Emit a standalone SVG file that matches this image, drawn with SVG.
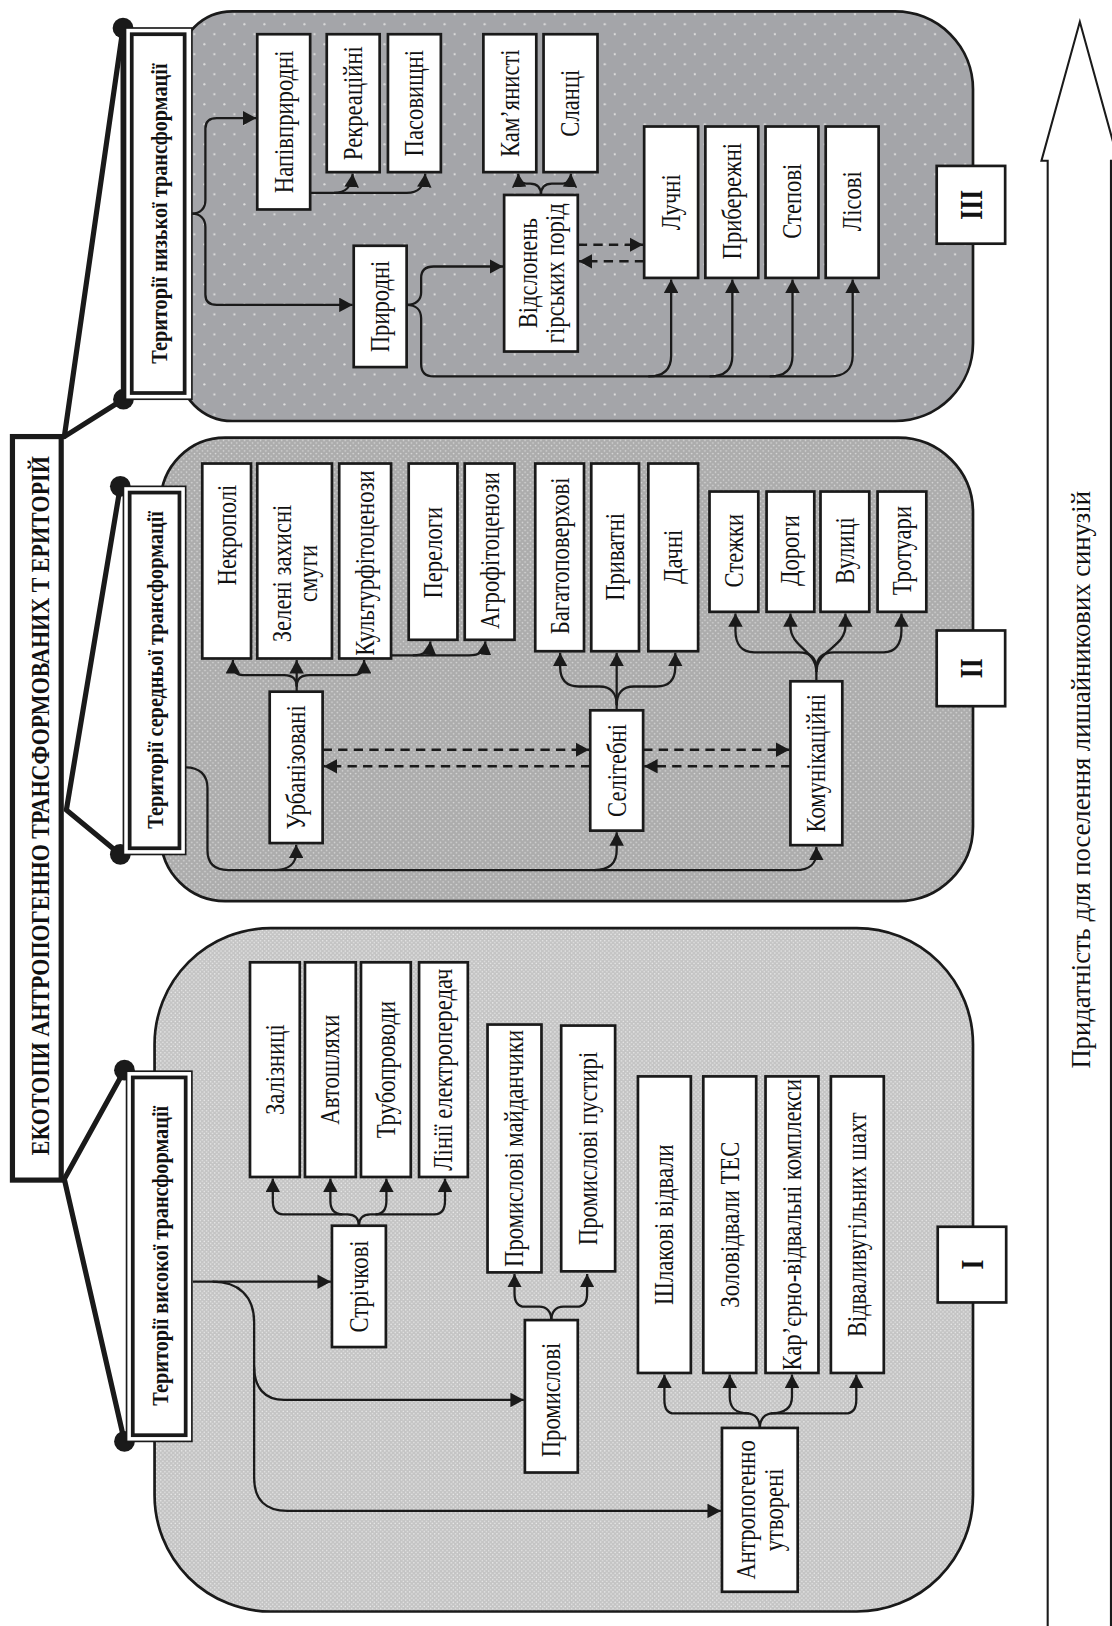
<svg xmlns="http://www.w3.org/2000/svg" width="1112" height="1626" viewBox="0 0 1112 1626">
<defs>
<style>
.bx{fill:#fff;stroke:#1a1a1a;stroke-width:2.6}
.t{font-family:"Liberation Serif","Times New Roman",serif;font-size:26px;fill:#111;text-anchor:middle}
.lb{font-family:"Liberation Serif","Times New Roman",serif;font-size:23px;font-weight:bold;fill:#111;text-anchor:middle}
.rn{font-family:"Liberation Serif","Times New Roman",serif;font-size:30px;font-weight:bold;fill:#111;text-anchor:middle}
.c{fill:none;stroke:#1a1a1a;stroke-width:2.2;marker-end:url(#ah)}
.d{fill:none;stroke:#1a1a1a;stroke-width:2.4;stroke-dasharray:9 6;marker-end:url(#ah)}
.tk{fill:none;stroke:#1a1a1a;stroke-width:5;stroke-linecap:round}
.pn{stroke:#1a1a1a;stroke-width:2.6}
.o1{fill:#fff;stroke:#1a1a1a;stroke-width:1.6}
.o2{fill:#fff;stroke:#1a1a1a;stroke-width:3.6}
</style>
<pattern id="p3" width="19.3" height="19.3" patternUnits="userSpaceOnUse"><rect width="19.3" height="19.3" fill="#a4a5a9"/><circle cx="4" cy="4" r="1.1" fill="#dedede"/><circle cx="13.65" cy="13.65" r="1.1" fill="#dedede"/></pattern>
<pattern id="p2" width="5.1" height="5.1" patternUnits="userSpaceOnUse"><rect width="5.1" height="5.1" fill="#acacac"/><circle cx="1.3" cy="1.3" r="0.75" fill="#dcdcdc"/><circle cx="3.85" cy="3.85" r="0.75" fill="#dcdcdc"/></pattern>
<pattern id="p1" width="4" height="4" patternUnits="userSpaceOnUse"><rect width="4" height="4" fill="#c4c4c4"/><circle cx="1" cy="1" r="0.7" fill="#ececec"/><circle cx="3" cy="3" r="0.7" fill="#ececec"/></pattern>
<marker id="ah" viewBox="0 0 13 14" refX="13" refY="7" markerWidth="13" markerHeight="14" markerUnits="userSpaceOnUse" orient="auto"><path d="M0,0 L13,7 L0,14 Z" fill="#1a1a1a"/></marker>
</defs>
<rect width="1112" height="1626" fill="#fff"/>
<g transform="scale(1.03731,1.03699)">

<g id="panels">
<path class="pn" fill="url(#p3)" d="M224,11 L863,11 A75,75 0 0 1 938,86 L938,331 A75,75 0 0 1 863,406 L224,406 A52,52 0 0 1 172,354 L172,63 A52,52 0 0 1 224,11 Z"/>
<path class="pn" fill="url(#p2)" d="M217,422 L866,422 A72,72 0 0 1 938,494 L938,797 A72,72 0 0 1 866,869 L217,869 A62,62 0 0 1 155,807 L155,484 A62,62 0 0 1 217,422 Z"/>
<rect class="pn" fill="url(#p1)" x="149" y="895" width="789" height="659" rx="112" ry="112"/>
</g>

<g id="suitability-arrow">
<path d="M1010,155 L1004,155 L1041,21 L1078,155 L1071,155 L1071,1600 L1010,1600 Z" fill="#fff" stroke="#1a1a1a" stroke-width="2"/>
<text class="t" transform="translate(1042,752) rotate(-90)" dy="0.33em" textLength="557" lengthAdjust="spacingAndGlyphs">Придатність для поселення лишайникових синузій</text>
</g>

<g id="title">
<rect x="12" y="421" width="47" height="717" fill="#fff" stroke="#1a1a1a" stroke-width="5"/>
<text class="lb" font-size="25" transform="translate(38,777) rotate(-90) scale(0.85,1)" dy="0.35em" style="font-size:25px">ЕКОТОПИ АНТРОПОГЕННО ТРАНСФОРМОВАНИХ Т ЕРИТОРІЙ</text>
</g>

<g id="connectors">
<path class="tk" d="M62,421 L118.6,27 M62,421 L119,385 M64,781 L116,469 M64,781 L116,824 M62,1137 L120,1032 M62,1137 L120,1390"/>
<path class="tk" d="M118.6,27 L119,385"/>
<circle cx="118.6" cy="27" r="10" fill="#1a1a1a"/>
<circle cx="119" cy="385" r="10" fill="#1a1a1a"/>
<circle cx="116" cy="469" r="10" fill="#1a1a1a"/>
<circle cx="116" cy="824" r="10" fill="#1a1a1a"/>
<circle cx="120" cy="1032" r="10" fill="#1a1a1a"/>
<circle cx="120" cy="1390" r="10" fill="#1a1a1a"/>

<!-- III -->
<path class="c" d="M185,206 C193,206 198,201 198,193 L198,124 C198,117 202,114 209,114 L247,114"/>
<path class="c" d="M185,206 C193,206 198,211 198,219 L198,284 C198,291 202,294 209,294 L340,294"/>
<path class="c" d="M299,186 L322,186 C333,186 339,181 340,167.5"/>
<path class="c" d="M322,186 L392,186 C403,186 409,181 410,167.5"/>
<path class="c" d="M392,294 C401,294 406,289 406,282 L406,268 C406,261 410,257 418,257 L485,257"/>
<path class="c" d="M392,294 C401,294 406,299 406,307 L406,351 C406,359 410,363 418,363 L800,363 C814,363 822,356 822,343 L822,269.5"/>
<path class="c" d="M625,363 C640,363 647,356 647,343 L647,269.5"/>
<path class="c" d="M684,363 C699,363 706,356 706,343 L706,269.5"/>
<path class="c" d="M742,363 C757,363 764,356 764,343 L764,269.5"/>
<path class="c" d="M521.5,188 C521.5,181 518,177 511,177 L507,177 C502,177 500,174 499.5,167.5"/>
<path class="c" d="M521.5,188 C521.5,181 525,177 532,177 L543,177 C548,177 550,174 550.5,167.5"/>
<path class="d" d="M557,236 L620,236"/>
<path class="d" d="M621,252 L558,252"/>

<!-- II -->
<path class="c" d="M286,667 L286,636.5"/>
<path class="c" d="M286,662 C286,655 282,651 274,651 L234,651 C228,651 224.5,647 224.5,642 L224.5,636.5"/>
<path class="c" d="M286,662 C286,655 290,651 298,651 L341,651 C347,651 351,647 351,642 L351,636.5"/>
<path class="c" d="M377,632 L398,632 C409,632 414,628 415,618.5"/>
<path class="c" d="M398,632 L452,632 C463,632 467,628 468,618.5"/>
<path class="d" d="M311,723 L568,723"/>
<path class="d" d="M569,739 L312,739"/>
<path class="d" d="M620,723 L761,723"/>
<path class="d" d="M762,739 L621,739"/>
<path class="c" d="M594.5,685 L594.5,629.5"/>
<path class="c" d="M594.5,680 C594.5,668 588,662 578,662 L558,662 C546,662 540,655 540,643 L540,629.5"/>
<path class="c" d="M594.5,680 C594.5,668 601,662 611,662 L633,662 C645,662 651,655 651,643 L651,629.5"/>
<path class="c" d="M787,657 L787,645 C787,634 781,629 770,629 L727,629 C715,629 709,621 709,608 L709,591.5"/>
<path class="c" d="M787,645 C787,634 793,629 804,629 L852,629 C863,629 869,621 869,608 L869,591.5"/>
<path class="c" d="M787,648 C787,627 762,624 762,604 L762,591.5"/>
<path class="c" d="M787,648 C787,627 815,624 815,604 L815,591.5"/>
<path class="c" d="M179,740 C192,740 200,747 200,760 L200,820 C200,833 207,839 220,839 L767,839 C781,839 787,832 787,822 L787,816.5"/>
<path class="c" d="M264,839 C279,839 285.5,832 285.5,822 L285.5,814.5"/>
<path class="c" d="M573,839 C588,839 594.5,832 594.5,820 L594.5,802.5"/>

<!-- I -->
<path class="c" d="M186,1236 L319,1236"/>
<path class="c" d="M205,1236 C230,1236 245,1250 245,1275 L245,1425 C245,1446 256,1457 277,1457 L695,1457"/>
<path class="c" d="M245,1318 C245,1338 255,1350 274,1350 L505,1350"/>
<path class="c" d="M346,1182 C346,1175 342,1171 335,1171 L273,1171 C266,1171 263,1166 263,1158 L263,1136.5"/>
<path class="c" d="M346,1182 C346,1175 350,1171 357,1171 L419,1171 C426,1171 429,1166 429,1158 L429,1136.5"/>
<path class="c" d="M330,1171 C322,1171 318.5,1166 318.5,1158 L318.5,1136.5"/>
<path class="c" d="M362,1171 C369,1171 372.5,1166 372.5,1158 L372.5,1136.5"/>
<path class="c" d="M531.5,1273 C531.5,1265 527,1260 520,1260 L506,1260 C499,1260 496,1255 496,1247 L496,1228.5"/>
<path class="c" d="M531.5,1273 C531.5,1265 536,1260 543,1260 L556,1260 C563,1260 566,1255 566,1247 L566,1228.5"/>
<path class="c" d="M732.5,1377 C732.5,1369 728,1363 720,1363 L650,1363 C643,1363 640.5,1358 640.5,1350 L640.5,1325.5"/>
<path class="c" d="M732.5,1377 C732.5,1369 737,1363 745,1363 L815,1363 C822,1363 825.5,1358 825.5,1350 L825.5,1325.5"/>
<path class="c" d="M722,1363 C708,1363 703.5,1357 703.5,1347 L703.5,1325.5"/>
<path class="c" d="M743,1363 C758,1363 763.5,1357 763.5,1347 L763.5,1325.5"/>
</g>

<!-- Labels -->
<g id="label-low">
<rect class="o1" x="121" y="27" width="64" height="358"/>
<rect class="o2" x="127" y="33" width="51" height="346"/>
<text class="lb" transform="translate(152.5,206) rotate(-90) scale(0.85,1)" dy="0.35em">Території низької трансформації</text>
</g>
<g id="label-mid">
<rect class="o1" x="119" y="469" width="60" height="355"/>
<rect class="o2" x="125" y="475" width="48" height="343"/>
<text class="lb" transform="translate(149,646) rotate(-90) scale(0.85,1)" dy="0.35em">Території середньої трансформації</text>
</g>
<g id="label-high">
<rect class="o1" x="122" y="1033" width="63" height="357"/>
<rect class="o2" x="128" y="1039" width="51" height="345"/>
<text class="lb" transform="translate(153.5,1211) rotate(-90) scale(0.85,1)" dy="0.35em">Території високої трансформації</text>
</g>

<!-- III nodes -->
<g id="n-napivpryrodni"><rect class="bx" x="248" y="33" width="51" height="169"/><text class="t" transform="translate(273.5,117.5) rotate(-90) scale(0.84,1)" dy="0.33em">Напівприродні</text></g>
<g id="n-rekreatsiini"><rect class="bx" x="315" y="33" width="51" height="133"/><text class="t" transform="translate(340.5,99.5) rotate(-90) scale(0.84,1)" dy="0.33em">Рекреаційні</text></g>
<g id="n-pasovyshchni"><rect class="bx" x="374" y="33" width="51" height="133"/><text class="t" transform="translate(399.5,99.5) rotate(-90) scale(0.84,1)" dy="0.33em">Пасовищні</text></g>
<g id="n-kamianysti"><rect class="bx" x="466" y="33" width="51" height="133"/><text class="t" transform="translate(491.5,99.5) rotate(-90) scale(0.84,1)" dy="0.33em">Кам’янисті</text></g>
<g id="n-slantsi"><rect class="bx" x="524" y="33" width="52" height="133"/><text class="t" transform="translate(550,99.5) rotate(-90) scale(0.84,1)" dy="0.33em">Сланці</text></g>
<g id="n-pryrodni"><rect class="bx" x="341" y="237" width="51" height="117"/><text class="t" transform="translate(366.5,295.5) rotate(-90) scale(0.84,1)" dy="0.33em">Природні</text></g>
<g id="n-vidslonen"><rect class="bx" x="486" y="188" width="71" height="151"/><text class="t" transform="translate(509,263.5) rotate(-90) scale(0.84,1)" dy="0.33em">Відслонень</text><text class="t" transform="translate(535,263.5) rotate(-90) scale(0.84,1)" dy="0.33em">гірських порід</text></g>
<g id="n-luchni"><rect class="bx" x="621" y="122" width="52" height="146"/><text class="t" transform="translate(647,195) rotate(-90) scale(0.84,1)" dy="0.33em">Лучні</text></g>
<g id="n-pryberezhni"><rect class="bx" x="680" y="122" width="51" height="146"/><text class="t" transform="translate(705.5,194) rotate(-90) scale(0.84,1)" dy="0.33em">Прибережні</text></g>
<g id="n-stepovi"><rect class="bx" x="738" y="122" width="51" height="146"/><text class="t" transform="translate(763.5,194) rotate(-90) scale(0.84,1)" dy="0.33em">Степові</text></g>
<g id="n-lisovi"><rect class="bx" x="796" y="122" width="51" height="146"/><text class="t" transform="translate(821.5,194) rotate(-90) scale(0.84,1)" dy="0.33em">Лісові</text></g>
<g id="n-III"><rect class="bx" x="903" y="160" width="66" height="75"/><text class="rn" transform="translate(936,197.5) rotate(-90) scale(0.82,1)" dy="0.35em">III</text></g>

<!-- II nodes -->
<g id="n-nekropoli"><rect class="bx" x="195" y="447" width="47" height="188"/><text class="t" transform="translate(218.5,516) rotate(-90) scale(0.84,1)" dy="0.33em">Некрополі</text></g>
<g id="n-zeleni"><rect class="bx" x="248" y="447" width="72" height="188"/><text class="t" transform="translate(272,553) rotate(-90) scale(0.84,1)" dy="0.33em">Зелені захисні</text><text class="t" transform="translate(297,553) rotate(-90) scale(0.84,1)" dy="0.33em">смуги</text></g>
<g id="n-kulturfitotsenozy"><rect class="bx" x="327" y="447" width="50" height="188"/><text class="t" transform="translate(352,543) rotate(-90) scale(0.84,1)" dy="0.33em">Культурфітоценози</text></g>
<g id="n-perelohy"><rect class="bx" x="394" y="447" width="47" height="170"/><text class="t" transform="translate(417.5,533) rotate(-90) scale(0.84,1)" dy="0.33em">Перелоги</text></g>
<g id="n-ahrofitotsenozy"><rect class="bx" x="448" y="447" width="48" height="170"/><text class="t" transform="translate(472,531) rotate(-90) scale(0.84,1)" dy="0.33em">Агрофітоценози</text></g>
<g id="n-bahatopoverkhovi"><rect class="bx" x="516" y="447" width="47" height="181"/><text class="t" transform="translate(539.5,536) rotate(-90) scale(0.84,1)" dy="0.33em">Багатоповерхові</text></g>
<g id="n-pryvatni"><rect class="bx" x="570" y="447" width="46" height="181"/><text class="t" transform="translate(593,537) rotate(-90) scale(0.84,1)" dy="0.33em">Приватні</text></g>
<g id="n-dachni"><rect class="bx" x="625" y="447" width="48" height="181"/><text class="t" transform="translate(649,537) rotate(-90) scale(0.84,1)" dy="0.33em">Дачні</text></g>
<g id="n-stezhky"><rect class="bx" x="684" y="474" width="47" height="116"/><text class="t" transform="translate(707.5,531) rotate(-90) scale(0.84,1)" dy="0.33em">Стежки</text></g>
<g id="n-dorohy"><rect class="bx" x="739" y="474" width="46" height="116"/><text class="t" transform="translate(762,531) rotate(-90) scale(0.84,1)" dy="0.33em">Дороги</text></g>
<g id="n-vulytsi"><rect class="bx" x="791" y="474" width="47" height="116"/><text class="t" transform="translate(814.5,531) rotate(-90) scale(0.84,1)" dy="0.33em">Вулиці</text></g>
<g id="n-trotuary"><rect class="bx" x="846" y="474" width="47" height="116"/><text class="t" transform="translate(869.5,531) rotate(-90) scale(0.84,1)" dy="0.33em">Тротуари</text></g>
<g id="n-urbanizovani"><rect class="bx" x="260" y="667" width="51" height="146"/><text class="t" transform="translate(285.5,740) rotate(-90) scale(0.84,1)" dy="0.33em">Урбанізовані</text></g>
<g id="n-selitebni"><rect class="bx" x="569" y="685" width="51" height="116"/><text class="t" transform="translate(594.5,743) rotate(-90) scale(0.84,1)" dy="0.33em">Селітебні</text></g>
<g id="n-komunikatsiini"><rect class="bx" x="762" y="657" width="50" height="158"/><text class="t" transform="translate(787,736) rotate(-90) scale(0.84,1)" dy="0.33em">Комунікаційні</text></g>
<g id="n-II"><rect class="bx" x="903" y="608" width="66" height="73"/><text class="rn" transform="translate(936,644.5) rotate(-90) scale(0.82,1)" dy="0.35em">II</text></g>

<!-- I nodes -->
<g id="n-zaliznytsi"><rect class="bx" x="241" y="928" width="48" height="207"/><text class="t" transform="translate(265,1031.5) rotate(-90) scale(0.84,1)" dy="0.33em">Залізниці</text></g>
<g id="n-avtoshliakhy"><rect class="bx" x="294" y="928" width="49" height="207"/><text class="t" transform="translate(318.5,1031.5) rotate(-90) scale(0.84,1)" dy="0.33em">Автошляхи</text></g>
<g id="n-truboprovody"><rect class="bx" x="348" y="928" width="48" height="207"/><text class="t" transform="translate(372,1031.5) rotate(-90) scale(0.84,1)" dy="0.33em">Трубопроводи</text></g>
<g id="n-linii"><rect class="bx" x="404" y="928" width="47" height="207"/><text class="t" transform="translate(427.5,1031.5) rotate(-90) scale(0.84,1)" dy="0.33em">Лінії електропередач</text></g>
<g id="n-prom-maidanchyky"><rect class="bx" x="470" y="988" width="52" height="239"/><text class="t" transform="translate(496,1107.5) rotate(-90) scale(0.84,1)" dy="0.33em">Промислові майданчики</text></g>
<g id="n-prom-pustyri"><rect class="bx" x="541" y="989" width="52" height="237"/><text class="t" transform="translate(567,1107.5) rotate(-90) scale(0.84,1)" dy="0.33em">Промислові пустирі</text></g>
<g id="n-shlakovi"><rect class="bx" x="615" y="1038" width="51" height="286"/><text class="t" transform="translate(640.5,1181) rotate(-90) scale(0.84,1)" dy="0.33em">Шлакові відвали</text></g>
<g id="n-zolovidvaly"><rect class="bx" x="678" y="1038" width="51" height="286"/><text class="t" transform="translate(703.5,1181) rotate(-90) scale(0.84,1)" dy="0.33em">Золовідвали ТЕС</text></g>
<g id="n-karierno"><rect class="bx" x="738" y="1038" width="51" height="286"/><text class="t" transform="translate(763.5,1181) rotate(-90) scale(0.84,1)" dy="0.33em">Кар’єрно-відвальні комплекси</text></g>
<g id="n-vidvaly"><rect class="bx" x="801" y="1038" width="51" height="286"/><text class="t" transform="translate(826.5,1181) rotate(-90) scale(0.84,1)" dy="0.33em">Відваливугільних шахт</text></g>
<g id="n-strichkovi"><rect class="bx" x="320" y="1182" width="52" height="117"/><text class="t" transform="translate(346,1240.5) rotate(-90) scale(0.84,1)" dy="0.33em">Стрічкові</text></g>
<g id="n-promyslovi"><rect class="bx" x="506" y="1273" width="51" height="147"/><text class="t" transform="translate(531.5,1350) rotate(-90) scale(0.84,1)" dy="0.33em">Промислові</text></g>
<g id="n-antropohenno"><rect class="bx" x="696" y="1377" width="73" height="158"/><text class="t" transform="translate(719,1456) rotate(-90) scale(0.84,1)" dy="0.33em">Антропогенно</text><text class="t" transform="translate(746,1456) rotate(-90) scale(0.84,1)" dy="0.33em">утворені</text></g>
<g id="n-I"><rect class="bx" x="904" y="1183" width="66" height="73"/><text class="rn" transform="translate(937,1219.5) rotate(-90) scale(0.82,1)" dy="0.35em">I</text></g>

</g>
</svg>
